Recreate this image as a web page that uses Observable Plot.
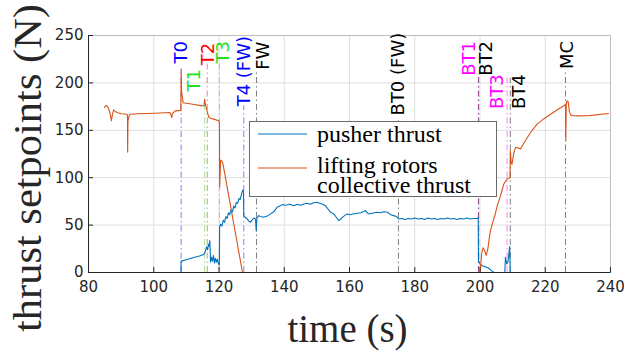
<!DOCTYPE html>
<html><head><meta charset="utf-8">
<script src="https://cdn.jsdelivr.net/npm/d3@7"></script>
<script src="https://cdn.jsdelivr.net/npm/@observablehq/plot@0.6"></script>
<style>body{margin:0;background:#fff}#chart{width:624px;height:353px}</style>
</head><body><div id="chart"></div><script>
// ---- data ----
const pusherTime = [84.8,108.35,108.4,110,112,114,115.3,115.8,116.2,116.5,116.8,117.0,117.2,117.4,117.7,118.0,118.3,118.6,118.9,119.2,119.5,119.8,120.1,
 120.2,120.5,120.9,121.3,121.7,122.1,122.5,122.9,123.3,123.7,124.1,124.5,124.9,125.3,125.7,126.1,126.5,126.9,127.3,127.5,
 127.6,128.1,128.6,129.2,129.7,130.2,130.7,131.2,131.4,131.6,132.2,132.7,133.7,134.8,135.8,136.8,137.8,138.8,139.4,140.5,141.7,142.9,144,145,146,147,148,149,150.1,150.8,151.6,152.6,153.4,154.2,155.2,156,156.7,157.2,157.8,158.5,159.3,160.3,161.3,162.4,163.5,164.2,164.9,165.4,165.9,166.8,167.6,168.5,169.5,170.5,171.6,172.6,173.5,174.4,175.1,
 176,177,178,179,180,181,182,183,184,185,186,187,188,189,190,191,192,193,194,195,196,197,198,199,199.45,
 199.55,200.0,201.0,202.5,203.5,204.3,207.6,207.8,208.2,208.6,209.1,209.25,240];
const pusherThrust = [0,0,12,13.5,15.5,17.5,19,22,27,24,30,28,33.7,11,16,12,18,10,15,11,14,9,8,
 48,51,49,55,53,59,57,63,61,66,64,70,68,74,73,78,77,83,87,86,
 60,58,56.5,54,53,55.5,57.5,56.5,44,57,60,59,58.2,59.5,61.8,64,68.8,70.5,71.6,71,72,70.5,72,71,72.3,73,72,73.5,74,73,72.3,70.5,67,63.5,61.8,58,54.7,56,58.2,60,61.8,61,62,62.5,63,64,65.3,63,61.8,62.5,63,63.5,63,64,63.5,61,60,59,56.5,
 57,56,57,56.5,57.5,56.5,57,56,57.5,56.5,57,56,57,56.5,57.5,56.5,57,56,57,56.5,57.5,56.5,57,57,58,
 12,9,6.5,5,2,0,0,16,9,12,27.4,0,0];

const liftTime = [84.9,85.3,85.6,86.1,86.6,87.0,87.3,87.7,88.2,88.7,90,91.7,91.95,92.0,92.1,92.5,92.8,95,100.4,105.0,105.3,105.5,105.8,106.6,108.3,108.4,108.55,109.0,110,112,114.8,115.4,115.6,115.8,116.2,116.9,117.5,118.4,119.9,120.15,120.2,120.5,121.0,121.3,127.2,
 200.1,200.15,200.5,200.9,201.3,201.9,202.4,202.8,203.2,204,204.7,205.3,206,206.7,207.3,207.8,208.3,208.8,209.2,209.3,209.5,209.8,210.3,210.9,211.6,212.4,213.4,214.5,216,217.5,219.5,221.6,223.6,225.7,226.2,226.3,226.45,226.7,227.0,227.4,227.8,228.7,230,232.9,235,237,238.5,239.4];
const liftThrust = [174,176,175.8,173.7,168,160,166,171.6,170,168.8,167.5,167,166,127,160,166,167,167.5,168,168.7,166,163.5,168,170.5,171,214.4,190,179,178.5,177.5,175.8,176,182.8,178,172,163.5,162.5,161.8,160,158,90,118.6,117,113,0,
 0,5,20,26,24,18,25,35,44,54,62,70.5,78,86,93.3,96,98.6,99.5,100,128.4,118,114,125,131.9,131.5,130.2,136,142.4,150,156.5,162,167,171.5,175.8,177.5,139,178,181,180.5,170,166,165.3,165.2,165.3,166,167,167.3,167.7];

const eventTime  = [108.4,115.6,116.4,120.15,127.6,131.5,175.0,199.5,199.6,208.3,209.3,226.2];
const eventLabel = ["T0","T1","T2","T3","T4 (FW)","FW","BT0 (FW)","BT1","BT2","BT3","BT4","MC"];
const eventColor = ["#0000ff","#1ee01e","#ff0000","#1ee01e","#0000ff","#000000","#000000","#ff00ff","#000000","#ff00ff","#000000","#000000"];

const xTicks = [80,100,120,140,160,180,200,220,240];
const yTicks = [0,50,100,150,200,250];
const seriesNames = ["pusher thrust", "lifting rotors", "collective thrust"];

// ---- layout of annotations (label top / line top in N, label shift in px) ----
const eventLayout = {
  "T0":{labelTop:244.2,lineTop:214.7,dx:0},
  "T1":{labelTop:214.7,lineTop:186,dx:-10.5},
  "T2":{labelTop:242.4,lineTop:221,dx:1},
  "T3":{labelTop:244.2,lineTop:220,dx:3.5},
  "T4 (FW)":{labelTop:249.5,lineTop:175.8,dx:0},
  "FW":{labelTop:243.5,lineTop:210.5,dx:7},
  "BT0 (FW)":{labelTop:252.9,lineTop:160,dx:0},
  "BT1":{labelTop:244.2,lineTop:206,dx:-9},
  "BT2":{labelTop:244.2,lineTop:208.4,dx:7.5},
  "BT3":{labelTop:209.2,lineTop:205,dx:-9.7},
  "BT4":{labelTop:209.2,lineTop:205,dx:9},
  "MC":{labelTop:244.2,lineTop:213.7,dx:1.5}
};

const pusher = pusherTime.map((t,i)=>({t, v:pusherThrust[i]}));
const lift = liftTime.map((t,i)=>({t, v:liftThrust[i]}));
const events = eventTime.map((t,i)=>({t, label:eventLabel[i], color:eventColor[i], top:eventLayout[eventLabel[i]].lineTop}));

const BLUE = "#0072BD", ORANGE = "#D95319", AX = "#262626";
const labelMarks = events.map(e => Plot.text([e], {
  x:"t", y: eventLayout[e.label].labelTop, text:"label", fill:e.color,
  rotate:-90, textAnchor:"end", lineAnchor:"middle", dx: eventLayout[e.label].dx,
  fontSize:18, fontFamily:"DejaVu Sans"
}));

const chart = Plot.plot({
  width:624, height:353,
  marginLeft:88, marginRight:14, marginTop:35, marginBottom:81,
  style:{fontFamily:"DejaVu Sans", background:"#fff"},
  x:{domain:[80,240], label:null},
  y:{domain:[0,250], label:null},
  color:{type:"identity"},
  marks:[
    Plot.gridX(xTicks,{stroke:"#dedede", strokeOpacity:1}),
    Plot.gridY(yTicks,{stroke:"#dedede", strokeOpacity:1}),
    Plot.ruleY([250],{stroke:"#bdbdbd"}),
    Plot.ruleX([240],{stroke:"#bdbdbd"}),
    Plot.ruleX(events,{x:"t", y1:0, y2:"top", stroke:"color", strokeOpacity:0.5, strokeDasharray:"6,3,1.5,3", strokeWidth:1}),
    Plot.line(pusher,{x:"t", y:"v", stroke:BLUE, strokeWidth:1.1}),
    Plot.line(lift,{x:"t", y:"v", stroke:ORANGE, strokeWidth:1.1}),
    ...labelMarks,
    Plot.ruleY([0],{stroke:AX}),
    Plot.ruleX([80],{stroke:AX}),
    Plot.axisX({ticks:xTicks, tickSize:0, tickPadding:9, fontSize:15, fill:AX, label:null}),
    Plot.axisX({ticks:xTicks, tickSize:5, dy:-5, text:null, stroke:AX, label:null}),
    Plot.axisY({ticks:yTicks, tickSize:0, tickPadding:5, fontSize:15, fill:AX, label:null}),
    Plot.axisY({ticks:yTicks, tickSize:5, dx:5, text:null, stroke:AX, label:null})
  ]
});
document.getElementById("chart").appendChild(chart);

// titles and legend
const svg = d3.select(chart);
svg.append("text").attr("transform","translate(41,168) rotate(-90)")
  .attr("text-anchor","middle").attr("font-family","Liberation Serif").attr("font-size",40).attr("fill",AX)
  .attr("textLength",328).attr("lengthAdjust","spacingAndGlyphs")
  .text("thrust setpoints (N)");
svg.append("text").attr("x",347.5).attr("y",342)
  .attr("text-anchor","middle").attr("font-family","Liberation Serif").attr("font-size",39).attr("fill",AX)
  .text("time (s)");
const lg = svg.append("g");
lg.append("rect").attr("x",249.5).attr("y",121.5).attr("width",247).attr("height",75).attr("fill","#fff").attr("stroke","#6a6a6a");
lg.append("line").attr("x1",258).attr("x2",307).attr("y1",134).attr("y2",134).attr("stroke",BLUE).attr("stroke-width",1.1);
lg.append("line").attr("x1",258).attr("x2",307).attr("y1",168).attr("y2",168).attr("stroke",ORANGE).attr("stroke-width",1.1);
const lt = (txt,y)=>lg.append("text").attr("x",317).attr("y",y).attr("text-anchor","start").attr("font-family","Liberation Serif").attr("font-size",24).attr("fill","#000").text(txt);
lt(seriesNames[0],142); lt(seriesNames[1],173); lt(seriesNames[2],193);
</script></body></html>
